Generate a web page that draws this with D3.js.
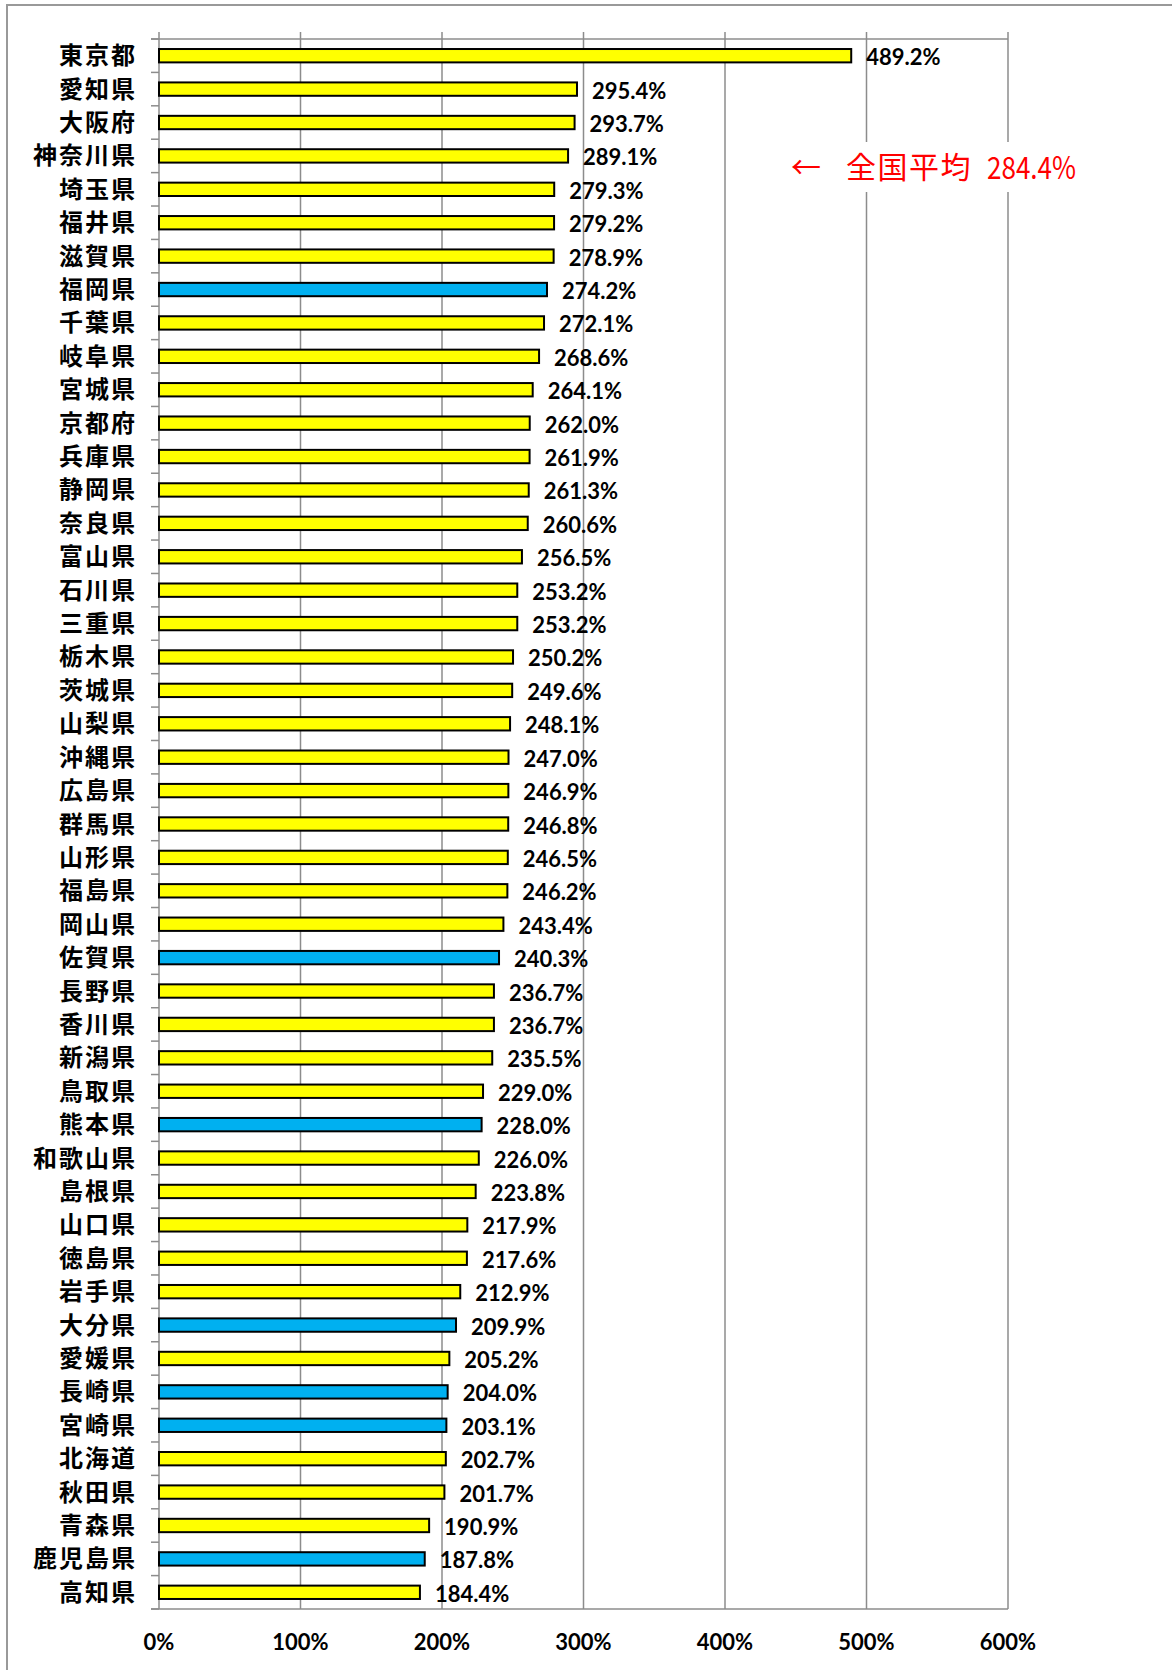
<!DOCTYPE html>
<html>
<head>
<meta charset="utf-8">
<script src="https://cdn.jsdelivr.net/npm/d3@7"></script>
<style>
  body { margin: 0; background: #fff; }
  svg { display: block; }
</style>
</head>
<body>
<svg id="chart" width="1172" height="1670"></svg>
<script>
const prefectures = ["東京都","愛知県","大阪府","神奈川県","埼玉県","福井県","滋賀県","福岡県","千葉県","岐阜県",
  "宮城県","京都府","兵庫県","静岡県","奈良県","富山県","石川県","三重県","栃木県","茨城県",
  "山梨県","沖縄県","広島県","群馬県","山形県","福島県","岡山県","佐賀県","長野県","香川県",
  "新潟県","鳥取県","熊本県","和歌山県","島根県","山口県","徳島県","岩手県","大分県","愛媛県",
  "長崎県","宮崎県","北海道","秋田県","青森県","鹿児島県","高知県"];
const ratios = [489.2,295.4,293.7,289.1,279.3,279.2,278.9,274.2,272.1,268.6,
  264.1,262.0,261.9,261.3,260.6,256.5,253.2,253.2,250.2,249.6,
  248.1,247.0,246.9,246.8,246.5,246.2,243.4,240.3,236.7,236.7,
  235.5,229.0,228.0,226.0,223.8,217.9,217.6,212.9,209.9,205.2,
  204.0,203.1,202.7,201.7,190.9,187.8,184.4];
const highlighted = ["福岡県","佐賀県","熊本県","大分県","長崎県","宮崎県","鹿児島県"];
const xTicks = [0,100,200,300,400,500,600];
const nationalAvg = 284.4;

const svg = d3.select("#chart");
const data = prefectures.map((p, i) => ({ name: p, value: ratios[i] }));

const plotL = 159, plotR = 1008, plotT = 39, plotB = 1609;
const x = d3.scaleLinear().domain([0, 600]).range([plotL, plotR]);
const y = d3.scaleBand().domain(prefectures).range([plotT, plotB]).paddingInner(0.6).paddingOuter(0.3);

// outer frame
svg.append("rect").attr("x", 7).attr("y", 5).attr("width", 1200).attr("height", 1700)
  .attr("fill", "none").attr("stroke", "#999").attr("stroke-width", 2);

// vertical gridlines
svg.append("g").selectAll("line").data(xTicks).join("line")
  .attr("x1", d => x(d)).attr("x2", d => x(d))
  .attr("y1", plotT - 7).attr("y2", plotB)
  .attr("stroke", "#8c8c8c").attr("stroke-width", 1.5);

// top and bottom lines
[plotT, plotB].forEach(yy => {
  svg.append("line").attr("x1", plotL - 8).attr("x2", plotR)
    .attr("y1", yy).attr("y2", yy).attr("stroke", "#8c8c8c").attr("stroke-width", 1.5);
});

// category ticks at band boundaries
const step = y.step();
svg.append("g").selectAll("line").data(d3.range(prefectures.length + 1)).join("line")
  .attr("x1", plotL - 8).attr("x2", plotL)
  .attr("y1", i => plotT + i * step).attr("y2", i => plotT + i * step)
  .attr("stroke", "#8c8c8c").attr("stroke-width", 1.5);

// average annotation (white box breaks the gridlines)
svg.append("rect").attr("x", 783).attr("y", 142).attr("width", 300).attr("height", 50).attr("fill", "#fff");
svg.append("text").attr("x", 791).attr("y", 165).attr("dominant-baseline", "central")
  .attr("font-family", "'Noto Sans CJK JP', sans-serif").attr("font-size", 30).attr("fill", "#ff0000")
  .text("←");
svg.append("text").attr("x", 846).attr("y", 165).attr("dominant-baseline", "central")
  .attr("font-family", "'Noto Sans CJK JP', sans-serif").attr("font-size", 30).attr("fill", "#ff0000")
  .attr("letter-spacing", 1.5)
  .text("全国平均");
svg.append("text").attr("x", 987).attr("y", 165).attr("dominant-baseline", "central")
  .attr("font-family", "'Noto Sans CJK JP', sans-serif").attr("font-size", 31).attr("fill", "#ff0000")
  .attr("textLength", 89).attr("lengthAdjust", "spacingAndGlyphs")
  .text(nationalAvg.toFixed(1) + "%");

// bars
svg.append("g").selectAll("rect").data(data).join("rect")
  .attr("x", x(0))
  .attr("y", d => y(d.name))
  .attr("width", d => x(d.value) - x(0))
  .attr("height", y.bandwidth())
  .attr("fill", d => highlighted.includes(d.name) ? "#00b0f0" : "#ffff00")
  .attr("stroke", "#000").attr("stroke-width", 2);

// value labels
svg.append("g").selectAll("text").data(data).join("text")
  .attr("x", d => x(d.value) + 15)
  .attr("y", d => y(d.name) + y.bandwidth() / 2 + 1)
  .attr("dominant-baseline", "central")
  .attr("font-family", "Lato, sans-serif").attr("font-weight", "bold").attr("font-size", 22)
  .attr("fill", "#000")
  .text(d => d.value.toFixed(1) + "%");

// category labels
svg.append("g").selectAll("text").data(data).join("text")
  .attr("x", 137)
  .attr("y", d => y(d.name) + y.bandwidth() / 2 - 2)
  .attr("text-anchor", "end").attr("dominant-baseline", "central")
  .attr("font-family", "'Noto Sans CJK JP', sans-serif").attr("font-weight", "bold").attr("font-size", 24)
  .attr("letter-spacing", 2)
  .attr("fill", "#000")
  .text(d => d.name);

// x tick labels
svg.append("g").selectAll("text").data(xTicks).join("text")
  .attr("x", d => x(d)).attr("y", 1641)
  .attr("text-anchor", "middle").attr("dominant-baseline", "central")
  .attr("font-family", "Lato, sans-serif").attr("font-weight", "bold").attr("font-size", 22)
  .attr("fill", "#000")
  .text(d => d + "%");
</script>
</body>
</html>
